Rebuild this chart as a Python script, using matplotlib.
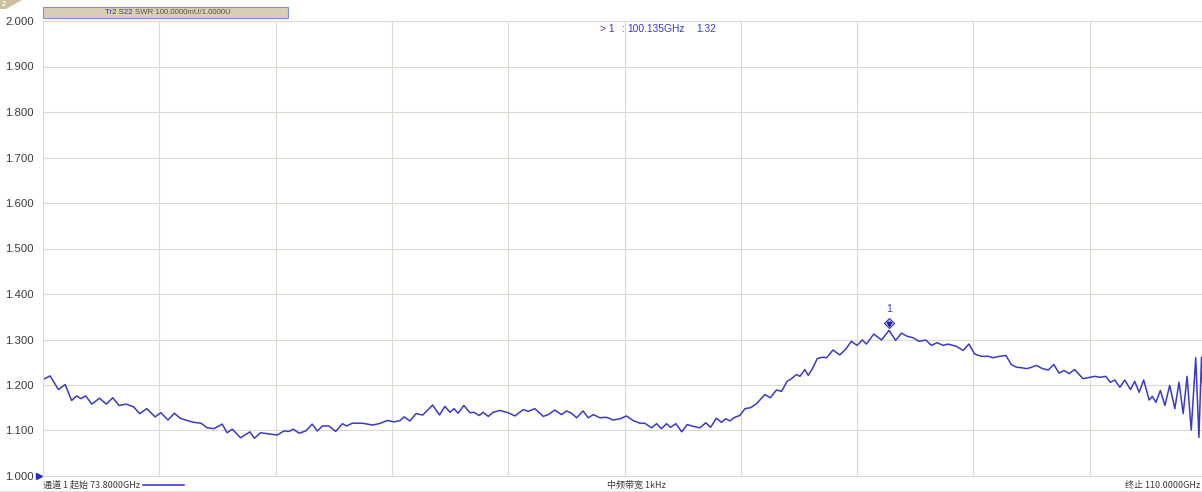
import numpy as np
import matplotlib
matplotlib.use("Agg")
import matplotlib.pyplot as plt
from matplotlib.patches import Rectangle, Polygon
from matplotlib.lines import Line2D
import matplotlib.transforms as mtransforms

# ---------------- data ----------------
f_start = 73.8
f_stop = 110.0
y_ticks = [1.0, 1.1, 1.2, 1.3, 1.4, 1.5, 1.6, 1.7, 1.8, 1.9, 2.0]
y_tick_labels = ["1.000", "1.100", "1.200", "1.300", "1.400", "1.500",
                 "1.600", "1.700", "1.800", "1.900", "2.000"]

freq_ghz = [
    73.80, 74.02, 74.28, 74.49, 74.69, 74.85, 74.98, 75.13, 75.32, 75.56,
    75.77, 75.97, 76.17, 76.39, 76.62, 76.81, 77.03, 77.29, 77.47, 77.69,
    77.89, 78.07, 78.28, 78.49, 78.72, 78.91, 79.12, 79.38, 79.53, 79.69,
    79.95, 80.24, 80.38, 80.57, 80.78, 81.09, 81.30, 81.46, 81.59, 81.77,
    81.98, 82.18, 82.34, 82.50, 82.70, 82.91, 83.12, 83.25, 83.43, 83.74,
    84.06, 84.26, 84.52, 84.73, 84.92, 85.04, 85.22, 85.41, 85.62, 85.93,
    86.14,
    86.31, 86.47, 86.59, 86.72, 86.90, 87.09, 87.21, 87.38, 87.50, 87.66,
    87.81, 88.02, 88.28, 88.49, 88.75, 88.90, 89.11, 89.37, 89.53, 89.73,
    89.94, 90.10, 90.25, 90.41, 90.61, 90.77, 90.93, 91.13, 91.34, 91.55,
    91.77, 91.96, 92.17, 92.38, 92.53, 92.74, 92.90, 93.05, 93.21, 93.33,
    93.50, 93.68, 93.85, 94.04, 94.25, 94.43, 94.58, 94.76, 94.92, 95.05,
    95.18, 95.33, 95.49, 95.65, 95.82, 96.01, 96.27, 96.44, 96.63, 96.79,
    96.96, 97.10, 97.25, 97.36, 97.51, 97.62, 97.75, 97.90, 98.06, 98.19,
    98.39, 98.60, 98.79, 98.96, 99.14, 99.30, 99.43, 99.66, 99.90, 100.135,
    100.34, 100.52, 100.70, 100.88, 101.07, 101.28, 101.45, 101.63, 101.82, 101.97,
    102.23, 102.44, 102.62, 102.80, 103.01, 103.22, 103.37, 103.58, 103.77, 103.94,
    104.10, 104.25, 104.41, 104.53, 104.72, 104.91, 105.09, 105.26, 105.43, 105.58,
    105.74, 105.91, 106.17, 106.33, 106.54, 106.71, 106.88, 107.02, 107.16, 107.32,
    107.47, 107.65, 107.78, 107.92, 108.06, 108.23, 108.33, 108.44, 108.58, 108.72,
    108.87, 109.03, 109.16, 109.29, 109.41, 109.54, 109.68, 109.78, 109.86, 109.94,
    110.00,
]

swr = [
    1.212, 1.220, 1.190, 1.201, 1.166, 1.176, 1.170, 1.176, 1.158, 1.171,
    1.158, 1.172, 1.155, 1.158, 1.152, 1.137, 1.148, 1.130, 1.139, 1.123,
    1.138, 1.127, 1.122, 1.118, 1.116, 1.106, 1.104, 1.114, 1.095, 1.103,
    1.084, 1.097, 1.083, 1.095, 1.093, 1.090, 1.099, 1.098, 1.103, 1.094,
    1.099, 1.114, 1.099, 1.110, 1.110, 1.098, 1.115, 1.110, 1.116, 1.116,
    1.112, 1.115, 1.122, 1.119, 1.122, 1.130, 1.121, 1.137, 1.134, 1.156,
    1.134,
    1.153, 1.140, 1.148, 1.138, 1.155, 1.139, 1.140, 1.133, 1.140, 1.131,
    1.140, 1.144, 1.139, 1.132, 1.146, 1.142, 1.148, 1.131, 1.135, 1.145,
    1.135, 1.143, 1.138, 1.128, 1.143, 1.128, 1.135, 1.128, 1.129, 1.123,
    1.126, 1.132, 1.122, 1.116, 1.116, 1.106, 1.115, 1.104, 1.115, 1.107,
    1.115, 1.097, 1.113, 1.109, 1.106, 1.117, 1.107, 1.127, 1.118, 1.126,
    1.121, 1.129, 1.133, 1.148, 1.150, 1.159, 1.179, 1.172, 1.189, 1.186,
    1.208, 1.214, 1.223, 1.219, 1.234, 1.221, 1.236, 1.258, 1.261, 1.260,
    1.277, 1.266, 1.279, 1.296, 1.287, 1.299, 1.290, 1.312, 1.299, 1.320,
    1.298, 1.314, 1.307, 1.304, 1.296, 1.299, 1.287, 1.293, 1.287, 1.290,
    1.285, 1.276, 1.290, 1.268, 1.263, 1.263, 1.260, 1.263, 1.265, 1.245,
    1.239, 1.238, 1.236, 1.238, 1.243, 1.236, 1.233, 1.245, 1.226, 1.232,
    1.225, 1.234, 1.214, 1.216, 1.219, 1.217, 1.219, 1.206, 1.211, 1.195,
    1.211, 1.190, 1.208, 1.184, 1.211, 1.167, 1.175, 1.162, 1.188, 1.155,
    1.199, 1.148, 1.206, 1.137, 1.219, 1.101, 1.260, 1.085, 1.261, 1.120,
    1.200,
]

marker_freq = 100.135
marker_value = 1.32
trace_title = "Tr2 S22"
trace_format = "SWR 100.0000mU/1.0000U"
start_text = "通道 1 起始 73.8000GHz"
ifbw_text = "中频带宽 1kHz"
stop_text = "终止 110.0000GHz"

# ---------------- style ----------------
W, H = 1202, 492
blue = "#3a3ac6"
grid_c = "#dedad2"
text_c = "#3a3a3a"
num_font = ["Liberation Sans", "DejaVu Sans"]
cjk_font = ["Noto Sans CJK SC", "DejaVu Sans"]


def fx(px):
    return px / W


def fy(py):
    return 1 - py / H


fig = plt.figure(figsize=(W / 100, H / 100), dpi=100)
fig.patch.set_facecolor("white")

ax_left, ax_right, ax_top, ax_bottom = 43, 1206, 21, 476
ax = fig.add_axes([fx(ax_left), fy(ax_bottom), (ax_right - ax_left) / W,
                   (ax_bottom - ax_top) / H])
ax.set_xlim(f_start, f_stop)
ax.set_ylim(1.0, 2.0)
ax.set_xticks(np.linspace(f_start, f_stop, 11))
ax.set_xticklabels([])
ax.set_yticks(y_ticks)
ax.set_yticklabels(y_tick_labels, fontsize=8.2, color=text_c, family=num_font)
ax.tick_params(axis="both", length=0)
ax.tick_params(axis="y", pad=6.5)
ax.grid(True, color=grid_c, linewidth=0.8)
ax.set_axisbelow(True)
for s in ax.spines.values():
    s.set_color(grid_c)
    s.set_linewidth(0.8)

ax.plot(freq_ghz, swr, color=blue, linewidth=1.1, solid_joinstyle="round")

# marker 1
ax.plot([marker_freq], [marker_value + 0.016], marker="D", markersize=5.5,
        markerfacecolor="#b8b8ee", markeredgecolor=blue, markeredgewidth=0.8,
        linestyle="none")
ax.plot([marker_freq], [marker_value + 0.013], marker="v", markersize=3,
        color="#2020a0", linestyle="none")
ax.text(marker_freq, marker_value + 0.047, "1", color=blue, fontsize=7.5,
        ha="center", va="center", family=num_font)

# 1.000 reference triangle
trans = mtransforms.blended_transform_factory(ax.transAxes, ax.transData)
ax.plot([-0.0035], [1.0], marker=">", markersize=5, color="#2a2ad0",
        transform=trans, clip_on=False, linestyle="none")

# marker readout
rd_y = fy(29)
fig.text(fx(600), rd_y, "> 1", color=blue, fontsize=7.4, family=num_font,
         ha="left", va="center")
fig.text(fx(621), rd_y, ":", color=blue, fontsize=7.4, family=num_font,
         ha="left", va="center")
fig.text(fx(627), rd_y, "%.3fGHz" % marker_freq, color=blue, fontsize=7.4,
         family=num_font, ha="left", va="center")
fig.text(fx(696), rd_y, "%.2f" % marker_value, color=blue, fontsize=7.4,
         family=num_font, ha="left", va="center")

# trace title box
box = Rectangle((fx(43), fy(17.5)), fx(288) - fx(43), fy(6.5) - fy(17.5),
                transform=fig.transFigure, facecolor="#d9ceb6",
                edgecolor="#7d8fd8", linewidth=0.8)
fig.add_artist(box)
fig.text(fx(105), fy(12), trace_title, color="#3535c0", fontsize=5.6,
         family=num_font, ha="left", va="center")
fig.text(fx(135), fy(12), trace_format, color="#5a5448", fontsize=5.6,
         family=num_font, ha="left", va="center")

# top-left channel flag
flag = Polygon([(fx(0), fy(0)), (fx(22), fy(0)), (fx(6), fy(9)), (fx(0), fy(9))],
               closed=True, transform=fig.transFigure, facecolor="#cdbf9f",
               edgecolor="none")
fig.add_artist(flag)
fig.text(fx(2), fy(4.5), "2", color="white", fontsize=5, family=num_font,
         ha="left", va="center", fontweight="bold")

# bottom status strip
bt_y = fy(485)
fig.text(fx(43), bt_y, start_text, color=text_c, fontsize=6.5, family=cjk_font,
         ha="left", va="center")
fig.add_artist(Line2D([fx(143), fx(184)], [bt_y, bt_y], color="#2a2ad0",
                      linewidth=1.1, transform=fig.transFigure))
fig.text(fx(636), bt_y, ifbw_text, color=text_c, fontsize=6.5, family=cjk_font,
         ha="center", va="center")
fig.text(fx(1200), bt_y, stop_text, color=text_c, fontsize=6.5, family=cjk_font,
         ha="right", va="center")
fig.add_artist(Line2D([0, 1], [fy(490.5), fy(490.5)], color="#e2e2e2",
                      linewidth=0.8, transform=fig.transFigure))

fig.savefig("out.png", dpi=100, facecolor="white")
